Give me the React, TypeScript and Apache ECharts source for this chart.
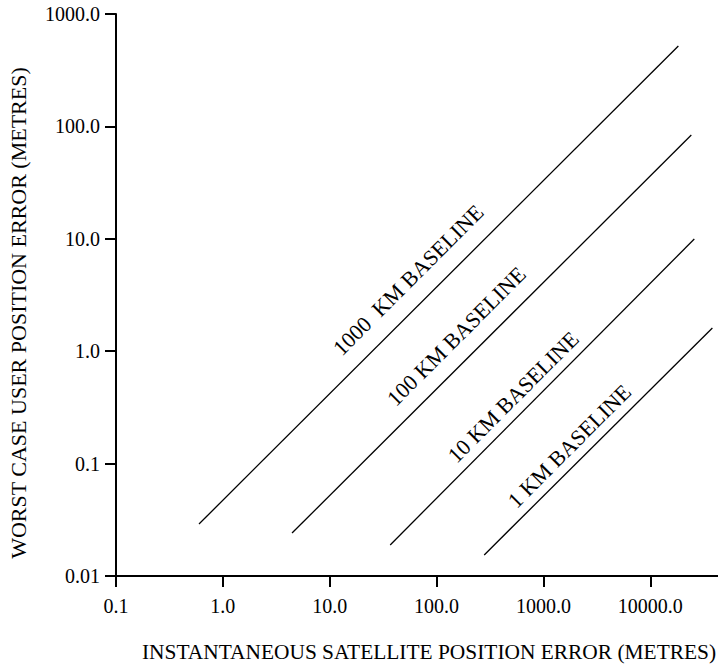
import React, { useEffect, useRef } from "react";
import * as echarts from "echarts";

const xTicks = [0.1, 1, 10, 100, 1000, 10000];
const xTickLabels = ["0.1", "1.0", "10.0", "100.0", "1000.0", "10000.0"];
const yTicks = [0.01, 0.1, 1, 10, 100, 1000];
const yTickLabels = ["0.01", "0.1", "1.0", "10.0", "100.0", "1000.0"];

const baselineNames = ["1000  KM BASELINE", "100 KM BASELINE", "10 KM BASELINE", "1 KM BASELINE"];
const line1000 = [[0.598, 0.029], [18300, 519]];
const line100 = [[4.44, 0.0241], [24200, 83.8]];
const line10 = [[36.8, 0.0189], [25800, 9.96]];
const line1 = [[279, 0.0154], [38100, 1.61]];
const labelAnchors = [[54.2, 4.3], [153, 1.36], [521, 0.392], [1746, 0.1435]];

const xTitle = "INSTANTANEOUS SATELLITE POSITION ERROR (METRES)";
const yTitle = "WORST CASE USER POSITION ERROR (METRES)";

const FONT = "'Liberation Serif', 'Times New Roman', serif";

function fmt(ticks: number[], labels: string[]) {
  return (v: number) => {
    for (let i = 0; i < ticks.length; i++) {
      if (Math.abs(Math.log10(v) - Math.log10(ticks[i])) < 1e-6) return labels[i];
    }
    return "";
  };
}

export default function App() {
  const ref = useRef<HTMLDivElement>(null);
  useEffect(() => {
    if (!ref.current) return;
    const chart = echarts.init(ref.current, null, { renderer: "svg" });
    const lines = [line1000, line100, line10, line1];
    chart.setOption({
      animation: false,
      grid: { left: 116, right: 0, top: 14, bottom: 90, containLabel: false },
      xAxis: {
        type: "log",
        logBase: 10,
        min: 0.1,
        max: 43000,
        splitLine: { show: false },
        minorTick: { show: false },
        axisLine: { lineStyle: { color: "#000", width: 2 } },
        axisTick: { length: 11, lineStyle: { color: "#000", width: 2 }, customValues: xTicks },
        axisLabel: {
          customValues: xTicks,
          formatter: fmt(xTicks, xTickLabels),
          color: "#000",
          fontFamily: FONT,
          fontSize: 20,
          margin: 20,
        },
      },
      yAxis: {
        type: "log",
        logBase: 10,
        min: 0.01,
        max: 1000,
        splitLine: { show: false },
        minorTick: { show: false },
        axisLine: { lineStyle: { color: "#000", width: 2 } },
        axisTick: { length: 11, lineStyle: { color: "#000", width: 2 } },
        axisLabel: {
          formatter: fmt(yTicks, yTickLabels),
          color: "#000",
          fontFamily: FONT,
          fontSize: 20,
          margin: 16,
        },
      },
      series: lines.map((d, i) => ({
        name: baselineNames[i],
        type: "line",
        data: d,
        symbol: "none",
        lineStyle: { color: "#000", width: 1.3 },
      })),
    });
    const texts: any[] = labelAnchors.map((a, i) => {
      const p = chart.convertToPixel({ gridIndex: 0 }, a) as number[];
      return {
        type: "text",
        x: p[0],
        y: p[1],
        rotation: Math.PI / 4,
        style: {
          text: baselineNames[i],
          fill: "#000",
          font: `22px ${FONT}`,
          align: "center",
          verticalAlign: "middle",
        },
      };
    });
    texts.push({
      type: "text",
      x: 429,
      y: 652,
      style: { text: xTitle, fill: "#000", font: `21.4px ${FONT}`, align: "center", verticalAlign: "middle" },
    });
    texts.push({
      type: "text",
      x: 18,
      y: 313,
      rotation: Math.PI / 2,
      style: { text: yTitle, fill: "#000", font: `22px ${FONT}`, align: "center", verticalAlign: "middle" },
    });
    chart.setOption({ graphic: texts });
    return () => chart.dispose();
  }, []);
  return (
    <div
      ref={ref}
      style={{ position: "absolute", left: 0, top: 0, width: 718, height: 666, background: "#fff" }}
    />
  );
}
